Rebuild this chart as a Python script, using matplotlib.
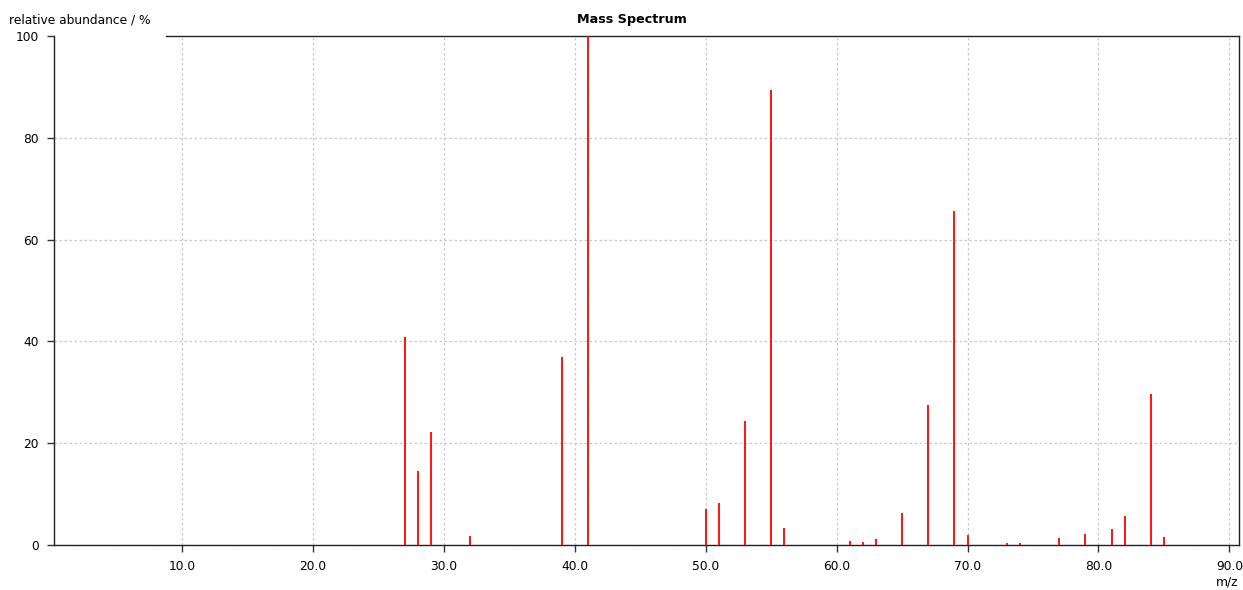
import matplotlib
matplotlib.use('Agg')
import matplotlib.pyplot as plt

# m/z values and relative abundances (%)
mz = [27, 28, 29, 32, 39, 41, 50, 51, 53, 55, 56, 61, 62, 63, 65, 67, 69, 70,
      73, 74, 77, 79, 81, 82, 84, 85]
abundance = [40.9, 14.5, 22.2, 1.8, 36.9, 100.0, 7.1, 8.3, 24.4, 89.4, 3.3, 0.85,
             0.6, 1.1, 6.3, 27.5, 65.6, 2.0, 0.4, 0.4, 1.4, 2.2, 3.1, 5.7, 29.7, 1.5]

x_ticks = [10, 20, 30, 40, 50, 60, 70, 80, 90]
y_ticks = [0, 20, 40, 60, 80, 100]

plt.rcParams['font.family'] = ['DejaVu Sans']

fig = plt.figure(figsize=(12.43, 5.9), dpi=100)
ax = fig.add_axes([54 / 1243, 1 - 545 / 590, (1239 - 54) / 1243, (545 - 36) / 590])

ax.vlines(mz, 0, abundance, colors='#ff0000', linewidth=1.3, zorder=3)

ax.set_xlim(0.21, 90.74)
ax.set_ylim(0, 100)
ax.set_xticks(x_ticks)
ax.set_xticklabels([f'{t:.1f}' for t in x_ticks])
ax.set_yticks(y_ticks)
ax.grid(True, color='#c8c8c8', linestyle=(0, (2, 2)), linewidth=0.9)
ax.get_ygridlines()[-1].set_visible(False)
ax.tick_params(labelsize=8.8, length=5, width=1, color='#333333', pad=6)

for side in ['left', 'bottom', 'right', 'top']:
    ax.spines[side].set_color('#222222')
    ax.spines[side].set_linewidth(1)
ax.spines['top'].set_bounds(8.8, 90.74)

fig.text(9 / 1243, 1 - 20 / 590, 'relative abundance / %', fontsize=8.8, va='center', ha='left')
fig.text(632 / 1243, 1 - 19 / 590, 'Mass Spectrum', fontsize=9.2, fontweight='bold',
         va='center', ha='center')
fig.text(1227 / 1243, 1 - 582 / 590, 'm/z', fontsize=8.8, va='center', ha='center')

fig.savefig('out.png', dpi=100)
